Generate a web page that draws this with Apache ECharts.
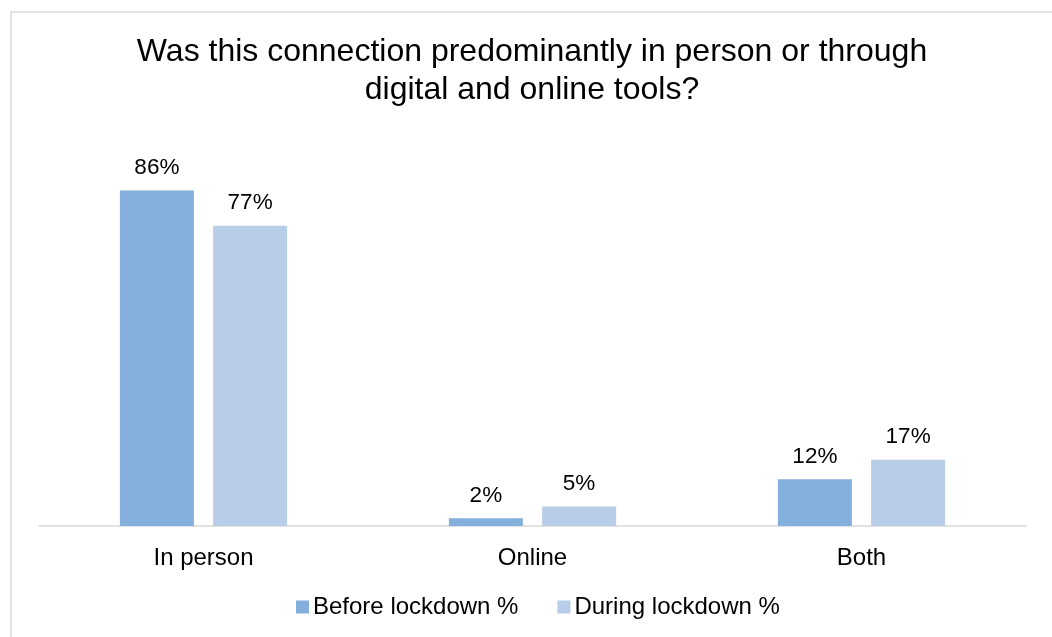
<!DOCTYPE html>
<html>
<head>
<meta charset="utf-8">
<script src="https://cdn.jsdelivr.net/npm/echarts@6/dist/echarts.min.js"></script>
<style>
  html, body { margin: 0; padding: 0; background: #fff; }
  #chart { width: 1052px; height: 637px; }
</style>
</head>
<body>
<div id="chart"></div>
<script>
const categories = ['In person', 'Online', 'Both'];
const beforeLockdown = [86, 2, 12];
const duringLockdown = [77, 5, 17];
const seriesNames = ['Before lockdown %', 'During lockdown %'];
const titleText = 'Was this connection predominantly in person or through\ndigital and online tools?';

const font = 'Liberation Sans, Arial, sans-serif';
const chart = echarts.init(document.getElementById('chart'));

const labelStyle = {
  show: true,
  position: 'top',
  distance: 11,
  formatter: p => p.value + '%',
  color: '#000',
  fontFamily: font,
  fontSize: 22.5
};

chart.setOption({
  backgroundColor: '#fff',
  animation: false,
  graphic: [{
    type: 'rect',
    left: 8.5, top: 9.5,
    shape: { width: 1100, height: 700 },
    style: { fill: 'none', stroke: '#d9d9d9', lineWidth: 1.5 },
    z: -1
  }],
  title: {
    text: titleText,
    left: 532,
    textAlign: 'center',
    top: 28,
    padding: [5, 0, 5, 0],
    textStyle: {
      fontFamily: font,
      fontSize: 32,
      fontWeight: 'normal',
      color: '#000',
      lineHeight: 38
    }
  },
  legend: {
    bottom: 13,
    left: 291,
    itemWidth: 13,
    itemHeight: 13,
    itemGap: 39,
    icon: 'rect',
    textStyle: { fontFamily: font, fontSize: 24, color: '#000', padding: [0, 0, 0, -1] },
    data: seriesNames
  },
  grid: { left: 39, right: 26, top: 136, bottom: 111 },
  xAxis: {
    type: 'category',
    data: categories,
    axisLine: { lineStyle: { color: '#d9d9d9', width: 1.5 } },
    axisTick: { show: false },
    axisLabel: { color: '#000', fontFamily: font, fontSize: 24, margin: 20 }
  },
  yAxis: {
    type: 'value',
    min: 0,
    max: 100,
    show: false,
    splitLine: { show: false }
  },
  series: [
    {
      name: seriesNames[0],
      type: 'bar',
      data: beforeLockdown,
      barWidth: 74,
      barGap: '26%',
      itemStyle: { color: '#84aedb' },
      label: labelStyle
    },
    {
      name: seriesNames[1],
      type: 'bar',
      data: duringLockdown,
      barWidth: 74,
      itemStyle: { color: '#b7cde8' },
      label: labelStyle
    }
  ]
});
</script>
</body>
</html>
